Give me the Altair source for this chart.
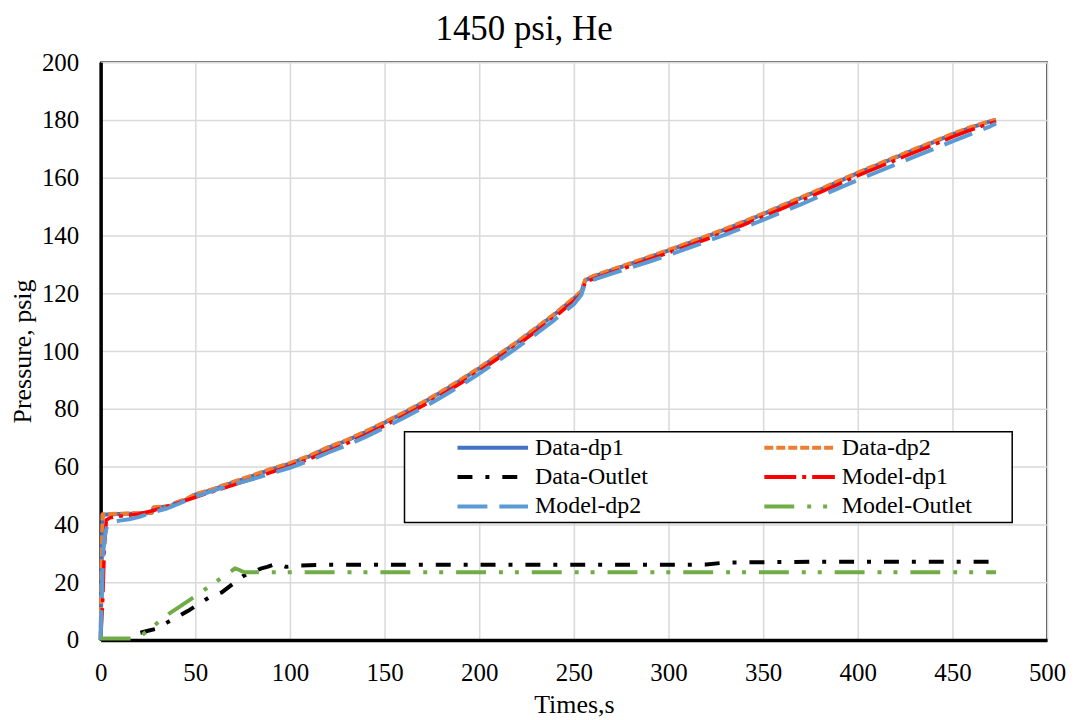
import altair as alt
import pandas as pd

# ---------------- data ----------------
names = ["Data-dp1", "Data-dp2", "Data-Outlet", "Model-dp1", "Model-dp2", "Model-Outlet"]
colors = ["#4472C4", "#ED7D31", "#000000", "#FF0000", "#5B9BD5", "#70AD47"]
dashes = [[1, 0], [9, 3], [15, 13, 4, 13], [32, 6, 4, 6], [30, 12], [30, 13, 4, 12, 4, 13]]
widths = [4, 4, 4, 3.5, 4, 4]

x_ticks = [0, 50, 100, 150, 200, 250, 300, 350, 400, 450, 500]
y_ticks = [0, 20, 40, 60, 80, 100, 120, 140, 160, 180, 200]

data_dp1_t = [0, 0.5, 1, 5, 10, 15, 20, 25, 27, 28, 35, 38, 39, 45, 50, 55, 60, 65, 70, 75, 80, 90,
              100, 110, 120, 130, 140, 150, 160, 170, 180, 190, 200, 210, 220, 230, 240, 250, 254,
              256, 260, 270, 280, 290, 300, 310, 320, 330, 340, 350, 360, 370, 380, 390, 400, 410,
              420, 430, 440, 450, 460, 470, 473]
data_dp1_p = [0, 25, 43.3, 43.5, 43.6, 43.7, 43.8, 43.9, 44.0, 45.8, 46.2, 46.5, 47.3, 48.5, 50.3,
              51.2, 52.2, 53.4, 54.5, 55.6, 56.7, 59.0, 61.0, 63.5, 66.5, 69.0, 72.0, 75.2, 78.5,
              82.0, 85.8, 89.8, 94.0, 98.5, 103.0, 107.8, 112.8, 118.2, 120.5, 124.5, 125.7, 128.0,
              130.2, 132.5, 134.8, 137.2, 139.6, 142.1, 144.7, 147.4, 150.2, 153.0, 155.8, 158.7,
              161.6, 164.3, 167.0, 169.7, 172.3, 175.0, 177.4, 179.5, 180.0]

data_dp2_t = [0, 0.5, 1, 5, 10, 15, 20, 25, 27, 28, 35, 38, 39, 45, 50, 55, 60, 65, 70, 75, 80, 90,
              100, 110, 120, 130, 140, 150, 160, 170, 180, 190, 200, 210, 220, 230, 240, 250, 254,
              256, 260, 270, 280, 290, 300, 310, 320, 330, 340, 350, 360, 370, 380, 390, 400, 410,
              420, 430, 440, 450, 460, 470, 473]
data_dp2_p = [0, 24, 43.5, 43.6, 43.7, 43.8, 43.9, 44.0, 44.1, 45.9, 46.3, 46.6, 47.4, 48.7, 50.5,
              51.4, 52.4, 53.6, 54.7, 55.8, 56.9, 59.2, 61.2, 63.7, 66.7, 69.2, 72.2, 75.4, 78.7,
              82.2, 86.0, 90.0, 94.2, 98.7, 103.2, 108.0, 113.0, 118.4, 120.8, 124.7, 125.9, 128.2,
              130.4, 132.7, 135.0, 137.4, 139.8, 142.3, 144.9, 147.6, 150.4, 153.2, 156.0, 158.9,
              161.8, 164.5, 167.2, 169.9, 172.5, 175.2, 177.6, 179.6, 180.1]

data_out_t = [21, 25, 29, 35, 42, 46, 52, 58, 64, 70, 75, 79, 85, 88, 93, 98, 105, 120, 150, 200,
              250, 300, 320, 330, 360, 400, 440, 470]
data_out_p = [2.5, 3.2, 3.8, 6.0, 8.5, 10.0, 12.5, 15.0, 16.5, 19.5, 22.0, 23.2, 24.8, 25.3, 26.4,
              25.3, 25.8, 26.0, 26.0, 26.0, 26.0, 26.0, 26.1, 26.8, 27.0, 27.1, 27.1, 27.1]

model_dp1_t = [0, 1, 2, 3, 5, 10, 20, 28, 30, 40, 50, 60, 70, 80, 90, 100, 110, 120, 130, 140, 150,
               160, 170, 180, 190, 200, 210, 220, 230, 240, 250, 254, 256, 260, 270, 280, 290, 300,
               310, 320, 330, 340, 350, 360, 370, 380, 390, 400, 410, 420, 430, 440, 450, 460, 470,
               473]
model_dp1_p = [0, 12, 32, 41.5, 42.3, 42.8, 43.6, 44.8, 45.3, 47.2, 49.4, 51.5, 53.6, 55.8, 58.0,
               60.2, 62.6, 65.3, 68.0, 71.0, 74.2, 77.5, 81.0, 84.8, 88.8, 93.0, 97.5, 102.0, 106.8,
               111.8, 117.3, 119.8, 123.9, 124.9, 127.2, 129.4, 131.7, 134.0, 136.3, 138.7, 141.2,
               143.8, 146.5, 149.3, 152.1, 154.9, 157.8, 160.7, 163.4, 166.1, 168.8, 171.4, 174.1,
               176.6, 178.8, 179.4]

model_dp2_t = [0, 0.5, 1, 1.5, 2, 3, 4, 6, 10, 15, 20, 28, 35, 40, 50, 60, 70, 80, 90, 100, 110,
               120, 130, 140, 150, 160, 170, 180, 190, 200, 210, 220, 230, 240, 250, 254, 256, 260,
               270, 280, 290, 300, 310, 320, 330, 340, 350, 360, 370, 380, 390, 400, 410, 420, 430,
               440, 450, 460, 470, 473]
model_dp2_p = [0, 12, 24, 31, 35, 38.5, 40.0, 40.8, 41.3, 41.8, 42.5, 44.3, 45.5, 46.8, 49.6, 51.8,
               53.8, 55.6, 57.6, 59.6, 62.0, 64.8, 67.4, 70.3, 73.5, 76.8, 80.3, 84.0, 88.0, 92.2,
               96.6, 101.2, 105.9, 110.9, 116.2, 119.5, 123.6, 124.6, 126.8, 128.9, 131.0, 133.2,
               135.5, 137.9, 140.3, 142.8, 145.4, 148.1, 150.8, 153.6, 156.4, 159.2, 161.9, 164.6,
               167.3, 169.9, 172.6, 175.2, 177.8, 178.8]

model_out_t = [0, 18, 22, 30, 36, 49, 56, 63, 69, 71, 73, 76, 80, 473]
model_out_p = [0.5, 0.5, 1.8, 5.9, 9.0, 14.7, 17.9, 21.1, 23.8, 24.8, 24.3, 23.4, 23.4, 23.4]

series = [
    ("Data-dp1", data_dp1_t, data_dp1_p),
    ("Data-dp2", data_dp2_t, data_dp2_p),
    ("Data-Outlet", data_out_t, data_out_p),
    ("Model-dp1", model_dp1_t, model_dp1_p),
    ("Model-dp2", model_dp2_t, model_dp2_p),
    ("Model-Outlet", model_out_t, model_out_p),
]

rows = []
for name, ts, ps in series:
    for i, (t, p) in enumerate(zip(ts, ps)):
        rows.append({"t": t, "p": p, "series": name, "i": i})
df = pd.DataFrame(rows)

FONT = "Liberation Serif"

legend = alt.Legend(
    title=None, orient="none", legendX=305, legendY=371, columns=2, direction="horizontal",
    symbolType="M6.2,0H18", symbolSize=144, symbolStrokeWidth=4,
    labelFont=FONT, labelFontSize=24, labelColor="black", labelOffset=103,
    labelExpr="datum.label + '\u2800\u2800'",
    labelLimit=500, columnPadding=31, rowPadding=5.5, padding=4,
    strokeColor="black", fillColor="white",
)

color_scale = alt.Scale(domain=names, range=colors)
dash_scale = alt.Scale(domain=names, range=dashes)

layers = []
for n, w in zip(names, widths):
    layers.append(
        alt.Chart(df).transform_filter(alt.datum.series == n)
        .mark_line(strokeWidth=w, strokeJoin="round")
        .encode(
            x=alt.X("t:Q", scale=alt.Scale(domain=[0, 500], nice=False),
                    axis=alt.Axis(values=x_ticks, title="Times,s")),
            y=alt.Y("p:Q", scale=alt.Scale(domain=[0, 200], nice=False),
                    axis=alt.Axis(values=y_ticks, title="Pressure, psig")),
            color=alt.Color("series:N", scale=color_scale, legend=legend),
            strokeDash=alt.StrokeDash("series:N", scale=dash_scale, legend=legend),
            order=alt.Order("i:Q"),
        )
    )

chart = alt.layer(*layers).properties(
    width=950, height=580,
    title=alt.TitleParams("1450 psi, He", font=FONT, fontSize=35, fontWeight="normal",
                          color="black", anchor="middle", dx=-50, offset=3),
    autosize="none",
    background="white",
    padding={"left": 93, "top": 53, "right": 20, "bottom": 81},
).configure_view(
    stroke="black", strokeWidth=1.5
).configure_axis(
    domainColor="black", domainWidth=3.5, gridColor="#D9D9D9", gridWidth=1.5,
    ticks=False, tickSize=0, labelFont=FONT, labelFontSize=25, labelColor="black",
    labelFlush=False,
    titleFont=FONT, titleFontSize=26, titleFontWeight="normal", titleColor="black",
).configure_axisX(
    labelPadding=21, titlePadding=6,
).configure_axisY(
    labelPadding=22, titlePadding=6,
).configure_legend(
    strokeWidth=1.5
)

chart.save("out.html", embed_options={"renderer": "svg", "actions": False})
